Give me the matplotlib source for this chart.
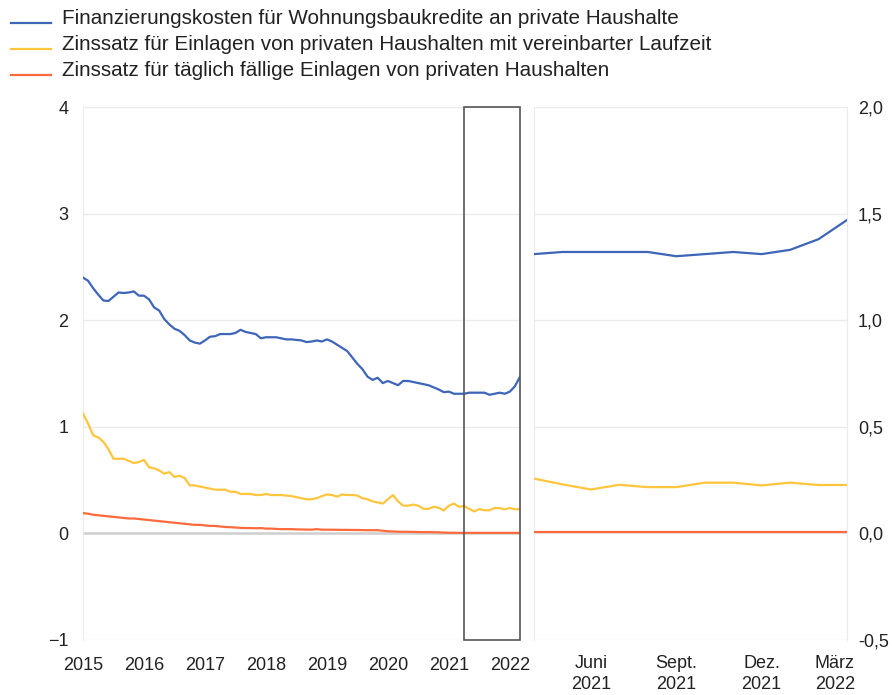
import matplotlib
matplotlib.use("Agg")
import matplotlib.pyplot as plt
from matplotlib.lines import Line2D
from matplotlib.patches import Rectangle
from matplotlib.transforms import ScaledTranslation
import numpy as np

plt.rcParams['font.family'] = ['Liberation Sans', 'DejaVu Sans']

# monthly values, Jan 2015 - Mar 2022
kredite = [2.40, 2.37, 2.30, 2.24, 2.185, 2.18, 2.22, 2.26, 2.255, 2.26, 2.27, 2.23,
           2.23, 2.195, 2.12, 2.09, 2.01, 1.96, 1.92, 1.90, 1.86, 1.81, 1.79, 1.78,
           1.81, 1.845, 1.85, 1.87, 1.87, 1.87, 1.88, 1.91, 1.89, 1.88, 1.87, 1.83,
           1.84, 1.84, 1.84, 1.83, 1.82, 1.82, 1.815, 1.81, 1.795, 1.80, 1.81, 1.80,
           1.82, 1.80, 1.77, 1.74, 1.71, 1.65, 1.59, 1.54, 1.47, 1.44, 1.46, 1.41,
           1.43, 1.41, 1.39, 1.43, 1.43, 1.42, 1.41, 1.40, 1.39, 1.37, 1.35, 1.325,
           1.33, 1.31, 1.31,
           1.31, 1.32, 1.32, 1.32, 1.32, 1.30, 1.31, 1.32, 1.31, 1.33, 1.38, 1.47]
laufzeit = [1.125, 1.03, 0.92, 0.90, 0.86, 0.79, 0.70, 0.70, 0.70, 0.68, 0.66, 0.67,
            0.69, 0.62, 0.61, 0.59, 0.56, 0.575, 0.53, 0.54, 0.52, 0.45, 0.45, 0.44,
            0.43, 0.42, 0.41, 0.41, 0.41, 0.39, 0.39, 0.37, 0.37, 0.37, 0.36, 0.36,
            0.37, 0.36, 0.36, 0.36, 0.355, 0.35, 0.34, 0.33, 0.32, 0.32, 0.33, 0.35,
            0.365, 0.36, 0.345, 0.365, 0.36, 0.36, 0.355, 0.33, 0.32, 0.30, 0.29, 0.28,
            0.32, 0.36, 0.30, 0.26, 0.26, 0.27, 0.26, 0.23, 0.23, 0.25, 0.24, 0.215,
            0.26, 0.28, 0.25,
            0.257, 0.23, 0.206, 0.228, 0.217, 0.217, 0.238, 0.238, 0.225, 0.238, 0.227, 0.227]
taeglich = [0.19, 0.185, 0.175, 0.17, 0.165, 0.16, 0.155, 0.15, 0.145, 0.14, 0.14, 0.135,
            0.13, 0.125, 0.12, 0.115, 0.11, 0.105, 0.10, 0.095, 0.09, 0.085, 0.08, 0.08,
            0.075, 0.07, 0.07, 0.065, 0.06, 0.058, 0.055, 0.052, 0.05, 0.05, 0.048, 0.05,
            0.045, 0.045, 0.042, 0.04, 0.04, 0.04, 0.038, 0.037, 0.036, 0.035, 0.04, 0.035,
            0.035, 0.034, 0.034, 0.033, 0.033, 0.032, 0.032, 0.031, 0.03, 0.03, 0.03, 0.025,
            0.02, 0.018, 0.016, 0.015, 0.015, 0.014, 0.013, 0.012, 0.012, 0.011, 0.01, 0.008,
            0.006, 0.006, 0.005,
            0.005, 0.005, 0.005, 0.005, 0.005, 0.005, 0.005, 0.005, 0.005, 0.005, 0.005, 0.005]

year_labels = ['2015', '2016', '2017', '2018', '2019', '2020', '2021', '2022']
zoom_labels = ['Juni\n2021', 'Sept.\n2021', 'Dez.\n2021', 'März\n2022']
zoom_ticks = [2, 5, 8, 11]
zoom_months = 12

names = ['Finanzierungskosten für Wohnungsbaukredite an private Haushalte',
         'Zinssatz für Einlagen von privaten Haushalten mit vereinbarter Laufzeit',
         'Zinssatz für täglich fällige Einlagen von privaten Haushalten']
colors = ['#3d65b8', '#ffc53d', '#ff6a3d']
series = [kredite, laufzeit, taeglich]

W, H = 892, 695
fig = plt.figure(figsize=(W / 100, H / 100), dpi=100)

def px_axes(x0, x1, y0, y1):
    return fig.add_axes([x0 / W, 1 - y1 / H, (x1 - x0) / W, (y1 - y0) / H])

ax = px_axes(83, 520, 107, 640)
ax2 = px_axes(534, 847, 107, 640)

grid_c = '#ebebeb'
text_c = '#222222'

# left panel
months = np.arange(len(kredite))
ax.set_xlim(0, len(kredite) - 1)
ax.set_ylim(-1, 4)
ax.set_yticks([-1, 0, 1, 2, 3, 4])
ax.set_yticklabels(['\u22121', '0', '1', '2', '3', '4'])
ax.set_xticks(np.arange(0, len(kredite), 12))
ax.set_xticklabels(year_labels)
ax.grid(axis='y', color=grid_c, lw=1)
ax.axhline(0, color='#cfcfcf', lw=1.8, zorder=1)
for s, c in zip(series, colors):
    ax.plot(months, s, color=c, lw=1.6, zorder=3)

n = len(kredite)
ax.add_patch(Rectangle((n - zoom_months, -1), zoom_months - 1, 5, fill=False,
                       ec='#555555', lw=1.2, zorder=4, clip_on=False))

# right panel: last twelve months
zm = np.arange(zoom_months)
ax2.set_xlim(0, zoom_months - 1)
ax2.set_ylim(-0.5, 2.0)
ax2.set_yticks([-0.5, 0, 0.5, 1.0, 1.5, 2.0])
ax2.set_yticklabels(['-0,5', '0,0', '0,5', '1,0', '1,5', '2,0'])
ax2.yaxis.tick_right()
ax2.set_xticks(zoom_ticks)
ax2.set_xticklabels(zoom_labels, linespacing=1.25)
ax2.grid(axis='y', color=grid_c, lw=1)
for s, c in zip(series, colors):
    ax2.plot(zm, s[-zoom_months:], color=c, lw=1.6, zorder=3)

for a in (ax, ax2):
    for sp in a.spines.values():
        sp.set_visible(False)
    a.spines['left'].set_visible(True)
    a.spines['left'].set_color(grid_c)
    a.tick_params(length=0, labelsize=13, colors=text_c)
    a.set_axisbelow(True)
ax2.spines['right'].set_visible(True)
ax2.spines['right'].set_color(grid_c)
ax.tick_params(axis='y', pad=10.5)
ax.tick_params(axis='x', pad=12)
ax2.tick_params(axis='y', pad=8)
ax2.tick_params(axis='x', pad=11)

# last month label sits a bit inside the panel
last = ax2.get_xticklabels()[-1]
last.set_transform(last.get_transform() + ScaledTranslation(-0.12, 0, fig.dpi_scale_trans))

# legend
for i, (name, c) in enumerate(zip(names, colors)):
    yl = 23 + i * 26.2
    fig.add_artist(Line2D([11 / W, 51 / W], [1 - yl / H, 1 - yl / H],
                          color=c, lw=1.6))
    fig.text(62 / W, 1 - (yl - 4.5) / H, name, fontsize=14.9, color=text_c,
             va='center', ha='left')

fig.savefig('out.png', dpi=100)
